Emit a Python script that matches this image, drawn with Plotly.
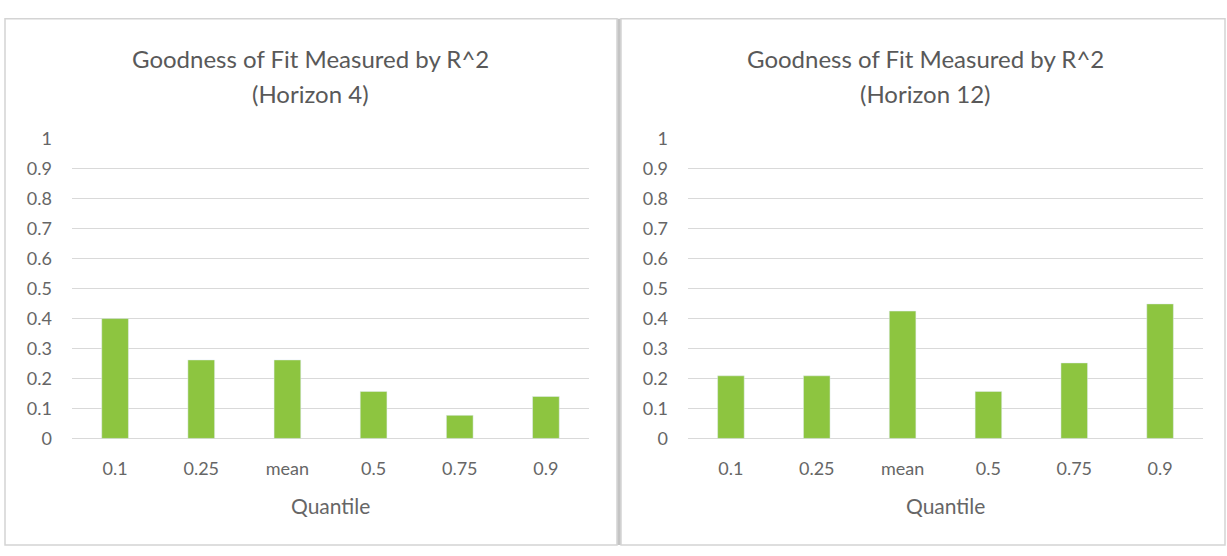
import plotly.graph_objects as go

categories = ["0.1", "0.25", "mean", "0.5", "0.75", "0.9"]
r2_h4 = [0.40, 0.262, 0.262, 0.157, 0.077, 0.14]
r2_h12 = [0.209, 0.209, 0.425, 0.157, 0.252, 0.449]
title_line1 = "Goodness of Fit Measured by R^2"
title_line2 = ["(Horizon 4)", "(Horizon 12)"]
x_title = "Quantile"

W, H = 1227, 556
FONT = "Lato, Carlito, Calibri, sans-serif"
TXT = "#595959"
TICK = "#666666"
GRID = "#d9d9d9"
BAR = "#8dc540"

def px(x):
    return x / W

def py(y):
    return 1 - y / H

fig = go.Figure()
fig.add_trace(go.Bar(x=categories, y=r2_h4, marker_color=BAR, xaxis="x", yaxis="y",
                     showlegend=False))
fig.add_trace(go.Bar(x=categories, y=r2_h12, marker_color=BAR, xaxis="x2", yaxis="y2",
                     showlegend=False))

ydom = [py(444), py(132)]
common_x = dict(showgrid=False, zeroline=False, showline=False, ticks="",
                tickfont=dict(family=FONT, size=18, color=TICK), ticklabelstandoff=18)
common_y = dict(range=[0, 1], dtick=0.1, tick0=0, showgrid=True, gridcolor=GRID, gridwidth=1.3,
                zeroline=True, zerolinecolor=GRID, zerolinewidth=1.3, showline=False, ticks="",
                tickfont=dict(family=FONT, size=18, color=TICK), ticklabelstandoff=19,
                domain=ydom)

fig.update_layout(
    width=W, height=H,
    margin=dict(l=0, r=0, t=0, b=0),
    paper_bgcolor="white", plot_bgcolor="white",
    bargap=0.69,
    xaxis=dict(domain=[px(72), px(589)], anchor="y", **common_x),
    yaxis=dict(anchor="x", **common_y),
    xaxis2=dict(domain=[px(688), px(1203)], anchor="y2", **common_x),
    yaxis2=dict(anchor="x2", **common_y),
)

# panel borders
fig.add_shape(type="rect", xref="paper", yref="paper", x0=px(5), x1=px(617), y0=py(555), y1=py(7),
              line=dict(color="#d4d4d4", width=1.5), layer="below")
fig.add_shape(type="rect", xref="paper", yref="paper", x0=px(621), x1=px(1225), y0=py(555), y1=py(7),
              line=dict(color="#d4d4d4", width=1.5), layer="below")
fig.add_shape(type="line", xref="paper", yref="paper", x0=px(619), x1=px(619), y0=py(555), y1=py(7),
              line=dict(color="#c4c4c4", width=3), layer="below")

# titles
for cx, t2 in zip([310, 925], title_line2):
    fig.add_annotation(text=title_line1, xref="paper", yref="paper", x=px(cx), y=py(48), showarrow=False,
                       font=dict(family=FONT, size=24, color=TXT), xanchor="center", yanchor="middle")
    fig.add_annotation(text=t2, xref="paper", yref="paper", x=px(cx), y=py(85), showarrow=False,
                       font=dict(family=FONT, size=24, color=TXT), xanchor="center", yanchor="middle")
for cx in [(72 + 589) / 2, (688 + 1203) / 2]:
    fig.add_annotation(text=x_title, xref="paper", yref="paper", x=px(cx), y=py(514), showarrow=False,
                       font=dict(family=FONT, size=21, color=TICK), xanchor="center", yanchor="middle")

fig.write_html("out.html")
